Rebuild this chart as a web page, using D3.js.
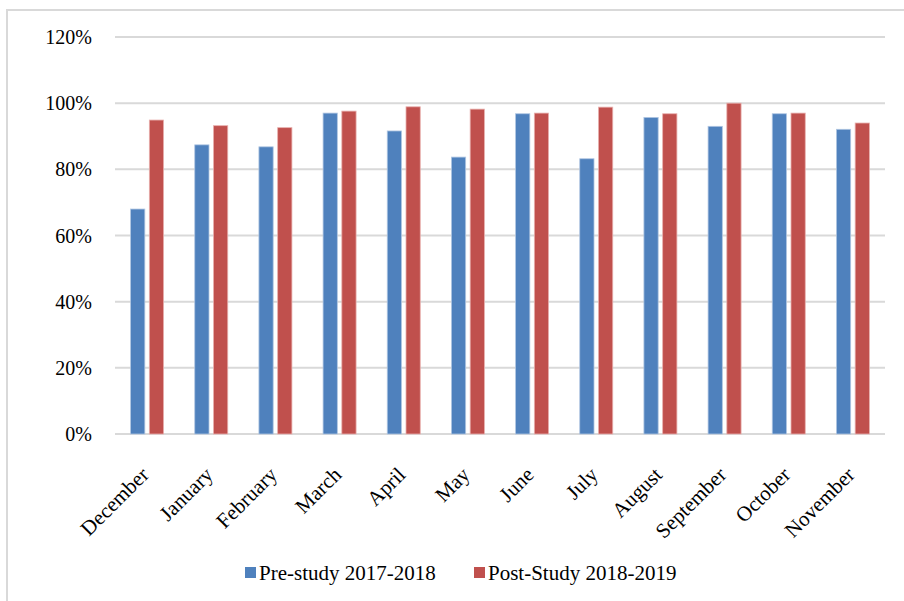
<!DOCTYPE html>
<html>
<head>
<meta charset="utf-8">
<script src="https://cdn.jsdelivr.net/npm/d3@7"></script>
<style>
  body { margin: 0; background: #fff; }
</style>
</head>
<body>
<div id="chart"></div>
<script>
// data
var months = ["December", "January", "February", "March", "April", "May",
              "June", "July", "August", "September", "October", "November"];
var preStudy  = [0.680, 0.874, 0.868, 0.970, 0.916, 0.837, 0.968, 0.832, 0.957, 0.930, 0.968, 0.921];
var postStudy = [0.949, 0.932, 0.926, 0.976, 0.989, 0.982, 0.970, 0.988, 0.968, 1.000, 0.970, 0.940];
var seriesNames = ["Pre-study 2017-2018", "Post-Study 2018-2019"];
var yTicks = [0, 0.2, 0.4, 0.6, 0.8, 1.0, 1.2];

var colors = ["#4F81BD", "#C0504D"];
var serif = "'Liberation Serif', 'Times New Roman', 'DejaVu Serif', serif";

var W = 904, H = 601;
var margin = {top: 37, right: 19, bottom: 167, left: 115},
    width = W - margin.left - margin.right,
    height = 434 - margin.top;

var svg = d3.select("#chart")
  .append("svg")
    .attr("width", W)
    .attr("height", H)
    .style("font-family", serif);

// chart frame
svg.append("rect")
  .attr("x", 7).attr("y", 10)
  .attr("width", 1000).attr("height", 1000)
  .attr("fill", "none")
  .attr("stroke", "#d9d9d9")
  .attr("stroke-width", 2);

var g = svg.append("g")
  .attr("transform", "translate(" + margin.left + "," + margin.top + ")");

var x0 = d3.scaleBand().domain(months).range([0, width]).padding(0);
var bw = x0.bandwidth();
var x1 = d3.scaleBand().domain([0, 1])
  .range([bw / 2 - 16.5, bw / 2 + 16.5])
  .paddingInner(0.24);

var y = d3.scaleLinear().domain([0, 1.2]).range([height, 0]);

// gridlines
g.selectAll(".grid")
  .data(yTicks)
  .enter().append("line")
    .attr("x1", 0).attr("x2", width)
    .attr("y1", function(d) { return y(d); })
    .attr("y2", function(d) { return y(d); })
    .attr("stroke", "#d9d9d9")
    .attr("stroke-width", 2);

// y tick labels
g.selectAll(".ylab")
  .data(yTicks)
  .enter().append("text")
    .attr("x", -23)
    .attr("y", function(d) { return y(d); })
    .attr("dy", "0.35em")
    .attr("text-anchor", "end")
    .style("font-family", serif)
    .style("font-size", "20px")
    .text(function(d) { return d3.format(".0%")(d); });

// bars
var rows = months.map(function(m, i) { return {month: m, vals: [preStudy[i], postStudy[i]]}; });

var groups = g.selectAll(".month")
  .data(rows)
  .enter().append("g")
    .attr("transform", function(d) { return "translate(" + x0(d.month) + ",0)"; });

groups.selectAll("rect")
  .data(function(d) { return d.vals.map(function(v, k) { return {k: k, v: v}; }); })
  .enter().append("rect")
    .attr("x", function(d) { return x1(d.k); })
    .attr("y", function(d) { return y(d.v); })
    .attr("width", x1.bandwidth())
    .attr("height", function(d) { return height - y(d.v); })
    .attr("fill", function(d) { return colors[d.k]; })
    .attr("stroke", function(d) { return d.k ? "#e8b0ae" : "#b0c6e2"; })
    .attr("stroke-width", 0.8);

// month labels, rotated
g.selectAll(".xlab")
  .data(months)
  .enter().append("text")
    .attr("transform", function(d) {
      return "translate(" + (x0(d) + bw / 2 + 3) + "," + (height + 42) + ") rotate(-45)";
    })
    .attr("text-anchor", "end")
    .style("font-family", serif)
    .style("font-size", "21px")
    .text(function(d) { return d; });

// legend
var legendX = [245, 474];
seriesNames.forEach(function(name, k) {
  svg.append("rect")
    .attr("x", legendX[k]).attr("y", 567)
    .attr("width", 11).attr("height", 11)
    .attr("fill", colors[k]);
  svg.append("text")
    .attr("x", legendX[k] + 14).attr("y", 580)
    .style("font-family", serif)
    .style("font-size", "21px")
    .text(name);
});
</script>
</body>
</html>
